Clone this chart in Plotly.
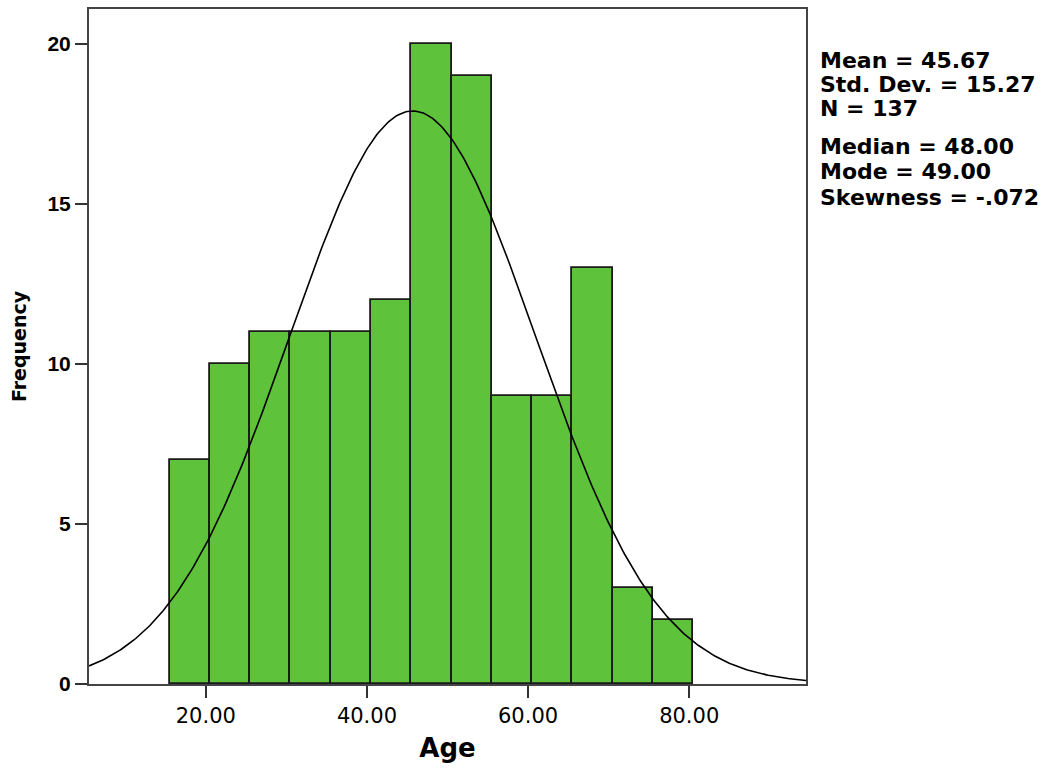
import numpy as np
import plotly.graph_objects as go

# Age histogram (bin width 5, starting at 15.5)
bin_start = 15.5
bin_width = 5.0
counts = [7, 10, 11, 11, 11, 12, 20, 19, 9, 9, 13, 3, 2]

mean_age = 45.67
sd_age = 15.27
n_total = 137

stats_lines_a = ["Mean = 45.67", "Std. Dev. = 15.27", "N = 137"]
stats_lines_b = ["Median = 48.00", "Mode = 49.00", "Skewness = -.072"]

x_ticks = [20, 40, 60, 80]
y_ticks = [0, 5, 10, 15, 20]

centers = [bin_start + bin_width * (i + 0.5) for i in range(len(counts))]

# Normal curve scaled to the histogram counts
xc = np.linspace(5.5, 94.5, 400)
yc = n_total * bin_width * np.exp(-0.5 * ((xc - mean_age) / sd_age) ** 2) / (sd_age * np.sqrt(2 * np.pi))

fig = go.Figure()
fig.add_trace(go.Bar(
    x=centers, y=counts, width=bin_width,
    marker=dict(color="#5EC23B", line=dict(color="#1a1a1a", width=1.8)),
    showlegend=False, hoverinfo="x+y",
))
fig.add_trace(go.Scatter(
    x=xc, y=yc, mode="lines",
    line=dict(color="black", width=1.6),
    showlegend=False, hoverinfo="skip",
))

arial = "Liberation Sans, Arial, sans-serif"
wide = "DejaVu Sans, Verdana, sans-serif"

fig.update_layout(
    width=1055, height=769,
    margin=dict(l=89, r=249, t=7, b=85),
    paper_bgcolor="white", plot_bgcolor="white",
    bargap=0,
    font=dict(family=arial, color="black"),
    xaxis=dict(
        range=[5.5, 94.5],
        tickvals=x_ticks, ticktext=[f"{v:.2f}" for v in x_ticks],
        ticks="outside", ticklen=12, tickwidth=2, tickcolor="#333",
        tickfont=dict(size=21, family=wide, color="black"),
        showgrid=False, zeroline=False,
        showline=True, linecolor="#444", linewidth=2, mirror=True,
        title=dict(text="<b>Age</b>", font=dict(size=26, family=wide), standoff=12),
    ),
    yaxis=dict(
        range=[0, 21.08],
        tickvals=y_ticks, ticktext=[f"<b>{v}</b>" for v in y_ticks],
        ticks="outside", ticklen=12, tickwidth=2, tickcolor="#333",
        tickfont=dict(size=21, family=arial, color="black"),
        showgrid=False, zeroline=False,
        showline=True, linecolor="#444", linewidth=2, mirror=True,
        title=dict(text="<b>Frequency</b>", font=dict(size=19, family=wide), standoff=16),
    ),
)

# Descriptive statistics block to the right of the plot
for i, line in enumerate(stats_lines_a):
    fig.add_annotation(
        xref="paper", yref="paper", x=1.0, y=1.0,
        xshift=12, yshift=-51 - 24 * i,
        text=f"<b>{line}</b>", showarrow=False,
        xanchor="left", yanchor="middle",
        font=dict(size=22, family=wide, color="black"),
    )
for i, line in enumerate(stats_lines_b):
    fig.add_annotation(
        xref="paper", yref="paper", x=1.0, y=1.0,
        xshift=12, yshift=-137 - 25.5 * i,
        text=f"<b>{line}</b>", showarrow=False,
        xanchor="left", yanchor="middle",
        font=dict(size=22, family=wide, color="black"),
    )

fig.write_html("out.html")
